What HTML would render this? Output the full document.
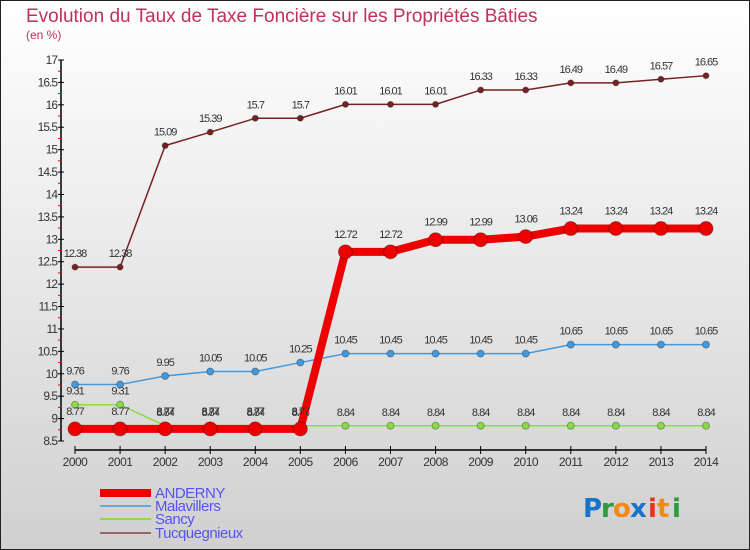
<!DOCTYPE html>
<html><head><meta charset="utf-8"><style>
body{margin:0;width:750px;height:550px;overflow:hidden}
svg{display:block;font-family:"Liberation Sans",sans-serif}
</style></head><body>
<svg id="chart" width="750" height="550" viewBox="0 0 750 550">
<defs><linearGradient id="bg" x1="0" y1="0" x2="0" y2="1"><stop offset="0" stop-color="#ffffff"/><stop offset="1" stop-color="#d0d0d0"/></linearGradient></defs>
<rect x="0.5" y="0.5" width="749" height="549" fill="url(#bg)" stroke="#222"/>
<text x="26" y="22" font-size="19" fill="#c0305a">Evolution du Taux de Taxe Foncière sur les Propriétés Bâties</text>
<text x="26" y="39" font-size="12" fill="#c0305a">(en %)</text>
<g id="axes"></g><g id="series"></g><g id="legend"></g>
<g font-family="DejaVu Sans, sans-serif" font-size="26" font-weight="bold">
<text x="583" y="517" fill="#1a73c8">P</text><text x="601" y="517" fill="#2a9a3a">r</text><text x="613" y="517" fill="#f08a10">o</text><text x="630" y="517" fill="#1a73c8">x</text><text x="648" y="517" fill="#e83020">i</text><text x="657" y="517" fill="#f08a10">t</text><text x="672" y="517" fill="#2a9a3a">i</text>
</g>
</svg>
<script>
const years=[2000,2001,2002,2003,2004,2005,2006,2007,2008,2009,2010,2011,2012,2013,2014];
const anderny=[8.77,8.77,8.77,8.77,8.77,8.77,12.72,12.72,12.99,12.99,13.06,13.24,13.24,13.24,13.24];
const malavillers=[9.76,9.76,9.95,10.05,10.05,10.25,10.45,10.45,10.45,10.45,10.45,10.65,10.65,10.65,10.65];
const sancy=[9.31,9.31,8.84,8.84,8.84,8.84,8.84,8.84,8.84,8.84,8.84,8.84,8.84,8.84,8.84];
const tucq=[12.38,12.38,15.09,15.39,15.7,15.7,16.01,16.01,16.01,16.33,16.33,16.49,16.49,16.57,16.65];
const yTicks=[8.5,9,9.5,10,10.5,11,11.5,12,12.5,13,13.5,14,14.5,15,15.5,16,16.5,17];
const NS='http://www.w3.org/2000/svg';
const X=i=>75+i*(631/14);
const Y=v=>441-(v-8.5)*(381/8.5);
function mk(tag,at,par,txt){const e=document.createElementNS(NS,tag);for(const k in at)e.setAttribute(k,at[k]);if(txt!==undefined)e.textContent=txt;par.appendChild(e);return e;}
const ax=document.getElementById('axes');
const ya=mk('line',{x1:61,y1:Y(17),x2:61,y2:Y(8.5),stroke:'#000','stroke-width':1.5},ax);


yTicks.forEach((t,k)=>{
 const l=mk('line',{x1:58,y1:Y(t),x2:64,y2:Y(t),stroke:'#000'},ax);
 
 
 if(k<yTicks.length-1){
 const r=mk('line',{x1:58,y1:Y(t+0.25),x2:61,y2:Y(t+0.25),stroke:'#e00'},ax);
 
 
 }
 const tx=mk('text',{x:57,y:Y(t)+4,'text-anchor':'end','font-size':12,fill:'#333','letter-spacing':'-1'},ax,String(t));
 
 
});
const xa=mk('line',{x1:75,y1:450,x2:706,y2:450,stroke:'#000','stroke-width':1.5},ax);


years.forEach((y,i)=>{
 const l=mk('line',{x1:X(i),y1:446,x2:X(i),y2:454,stroke:'#000'},ax);
 
 
 const tx=mk('text',{x:X(i),y:466,'text-anchor':'middle','font-size':12,fill:'#333','letter-spacing':'-0.5'},ax,String(y));
 
 
});
const sg=document.getElementById('series');
function series(name,vals,color,w,r,labelDy){
 const g=mk('g',{},sg);
 
 
 const p=mk('polyline',{points:vals.map((v,i)=>X(i)+','+Y(v)).join(' '),fill:'none',stroke:color,'stroke-width':w,'stroke-linejoin':'round'},g);
 
 
 vals.forEach((v,i)=>{
  const c=mk('circle',{cx:X(i),cy:Y(v),r:r,fill:color,stroke:'rgba(0,0,0,0.3)','stroke-width':1},g);
  
  
  const t=mk('text',{x:X(i),y:Y(v)+labelDy,'text-anchor':'middle','font-size':11,fill:'#333','letter-spacing':'-1'},g,String(v));
  
  
 });
}
series('sancy',sancy,'#88dd44',1.5,3.5,-10);
series('malavillers',malavillers,'#4499dd',1.5,3.5,-10);
series('tucquegnieux',tucq,'#772222',1.5,3,-10);
series('anderny',anderny,'#ee0000',8,7,-14);
const lg=document.getElementById('legend');
const items=[['ANDERNY','#ee0000',8,498],['Malavillers','#66aadd',2,511],['Sancy','#88dd44',2,524],['Tucquegnieux','#996666',2,538]];
items.forEach(it=>{
 const g=mk('g',{},lg);
 
 
 mk('line',{x1:100,y1:it[3]-5,x2:151,y2:it[3]-5,stroke:it[1],'stroke-width':it[2]},g);
 mk('text',{x:155,y:it[3],'font-size':15,fill:'#5555ee','letter-spacing':'-0.5'},g,it[0]);
});
</script>
</body></html>
